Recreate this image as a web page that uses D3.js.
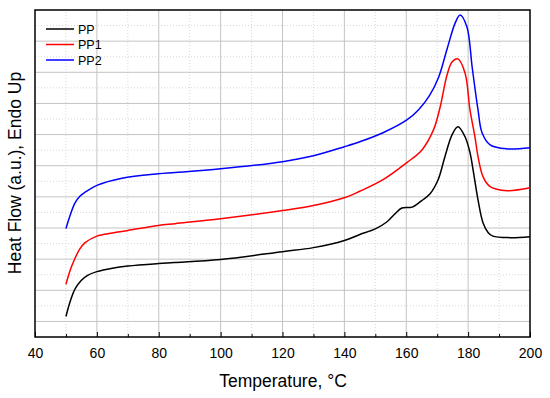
<!DOCTYPE html>
<html>
<head>
<meta charset="utf-8">
<script src="https://cdn.jsdelivr.net/npm/d3@7"></script>
<style>
  body { margin: 0; background: #fff; }
  svg text { font-family: Arial, "Liberation Sans", sans-serif; }
</style>
</head>
<body>
<div id="dsc_chart"></div>
<script>
// DSC curves, temperature in degC, heat flow in arbitrary units (offset per sample)
var series_names = ["PP", "PP1", "PP2"];
var series_colors = ["#000000", "#ff0000", "#0000ff"];

var pp_data = [
  [50, 0.16], [51.5, 0.68], [53, 1.05], [55, 1.32], [57, 1.48], [60, 1.6], [65, 1.71],
  [70, 1.78], [80, 1.86], [85, 1.89], [100, 1.99], [120, 2.24], [130, 2.37],
  [140, 2.6], [145, 2.79], [150, 2.97], [153.8, 3.2], [156.5, 3.47], [158.6, 3.64],
  [161.9, 3.67], [165, 3.88], [167.7, 4.1], [170.3, 4.55], [172.5, 5.29], [174.8, 5.99],
  [176.7, 6.25], [179, 5.93], [180.6, 5.42], [181.6, 4.87], [183.2, 3.9], [184.8, 3.17],
  [186.5, 2.85], [188, 2.74], [193.5, 2.69], [200, 2.72]
];

var pp1_data = [
  [50, 1.19], [51.5, 1.68], [52.9, 2.02], [54.5, 2.33], [56.2, 2.53], [60, 2.74], [65, 2.84],
  [70, 2.92], [79.8, 3.08], [85.3, 3.14], [100, 3.3], [120, 3.56], [130, 3.72], [140, 3.97],
  [145, 4.18], [152.5, 4.55], [160.2, 5.1], [165, 5.5], [168.8, 6.15], [170.9, 6.86],
  [173.2, 7.92], [174.8, 8.33], [176.7, 8.43], [179, 7.98], [180.6, 6.79], [182.2, 5.93],
  [183.2, 5.29], [184.8, 4.65], [187.1, 4.33], [192.6, 4.2], [200, 4.29]
];

var pp2_data = [
  [50, 2.98], [51.5, 3.45], [52.9, 3.8], [54.5, 4.02], [56.2, 4.15], [60, 4.37], [68.1, 4.6],
  [79.8, 4.74], [85.3, 4.78], [100, 4.9], [120, 5.13], [130, 5.32], [140, 5.61],
  [145, 5.77], [152.5, 6.06], [160.2, 6.47], [164, 6.8], [167.5, 7.25], [170.5, 7.85],
  [173.2, 8.75], [175.8, 9.58], [177.4, 9.84], [179.6, 9.46], [181.3, 8.17], [183.2, 6.79],
  [184.5, 6.06], [187.1, 5.67], [192.6, 5.54], [200, 5.58]
];

var all_series = [pp_data, pp1_data, pp2_data];

var x_ticks = [40, 60, 80, 100, 120, 140, 160, 180, 200];

var width = 550, height = 398;
var margin = { left: 35, right: 20, top: 10, bottom: 61 };

var svg = d3.select("#dsc_chart")
  .append("svg")
  .attr("width", width)
  .attr("height", height);

var x = d3.scaleLinear()
  .domain([40, 200])
  .range([margin.left, width - margin.right]);

var y = d3.scaleLinear()
  .domain([-0.5, 10])
  .range([height - margin.bottom, margin.top]);

// grid - minor dotted, major solid
var minor_x = d3.range(50, 200, 20);
var minor_y = d3.range(0.5, 10, 1);
var major_y = d3.range(0, 10, 1);

svg.append("g").selectAll("line")
  .data(minor_x)
  .enter().append("line")
  .attr("x1", d => x(d)).attr("x2", d => x(d))
  .attr("y1", y(-0.5)).attr("y2", y(10))
  .attr("stroke", "#d8d8d8")
  .attr("stroke-dasharray", "1,2");

svg.append("g").selectAll("line")
  .data(minor_y)
  .enter().append("line")
  .attr("x1", x(40)).attr("x2", x(200))
  .attr("y1", d => y(d)).attr("y2", d => y(d))
  .attr("stroke", "#d8d8d8")
  .attr("stroke-dasharray", "1,2");

svg.append("g").selectAll("line")
  .data(x_ticks.slice(1, -1))
  .enter().append("line")
  .attr("x1", d => x(d)).attr("x2", d => x(d))
  .attr("y1", y(-0.5)).attr("y2", y(10))
  .attr("stroke", "#c4c4c4");

svg.append("g").selectAll("line")
  .data(major_y)
  .enter().append("line")
  .attr("x1", x(40)).attr("x2", x(200))
  .attr("y1", d => y(d)).attr("y2", d => y(d))
  .attr("stroke", "#c4c4c4");

// x axis with inward ticks
var xAxis = svg.append("g")
  .attr("transform", "translate(0," + y(-0.5) + ")")
  .call(d3.axisBottom(x).tickValues(x_ticks).tickSize(-5).tickPadding(11))
xAxis.select(".domain").remove();
xAxis.selectAll("text").style("font-size", "14px").attr("fill", "#000");

svg.append("g")
  .attr("transform", "translate(0," + y(-0.5) + ")")
  .call(d3.axisBottom(x).tickValues(d3.range(50, 200, 10).filter(d => d % 20 != 0)).tickSize(-3).tickFormat(""))
  .select(".domain").remove();

// frame
svg.append("rect")
  .attr("x", x(40)).attr("y", y(10))
  .attr("width", x(200) - x(40))
  .attr("height", y(-0.5) - y(10))
  .attr("fill", "none")
  .attr("stroke", "#000")
  .attr("stroke-width", 1.5);

var line = d3.line()
  .x(d => x(d[0]))
  .y(d => y(d[1]))
  .curve(d3.curveCatmullRom.alpha(0.5));

svg.append("g").selectAll("path")
  .data(all_series)
  .enter().append("path")
  .attr("d", line)
  .attr("fill", "none")
  .attr("stroke", (d, i) => series_colors[i])
  .attr("stroke-width", 1.5);

// legend
var legend = svg.append("g").selectAll("g")
  .data(series_names)
  .enter().append("g")
  .attr("transform", (d, i) => "translate(46," + (29 + i * 15.5) + ")");

legend.append("line")
  .attr("x1", 0).attr("x2", 28)
  .attr("stroke", (d, i) => series_colors[i])
  .attr("stroke-width", 1.5);

legend.append("text")
  .attr("x", 32).attr("y", 4.5)
  .style("font-size", "12.5px")
  .text(d => d);

// axis titles
svg.append("text")
  .attr("x", 283).attr("y", 387)
  .attr("text-anchor", "middle")
  .style("font-size", "17.5px")
  .text("Temperature, °C");

svg.append("text")
  .attr("transform", "translate(21," + 173 + ") rotate(-90)")
  .attr("text-anchor", "middle")
  .style("font-size", "17.5px")
  .text("Heat Flow (a.u.), Endo Up");
</script>
</body>
</html>
